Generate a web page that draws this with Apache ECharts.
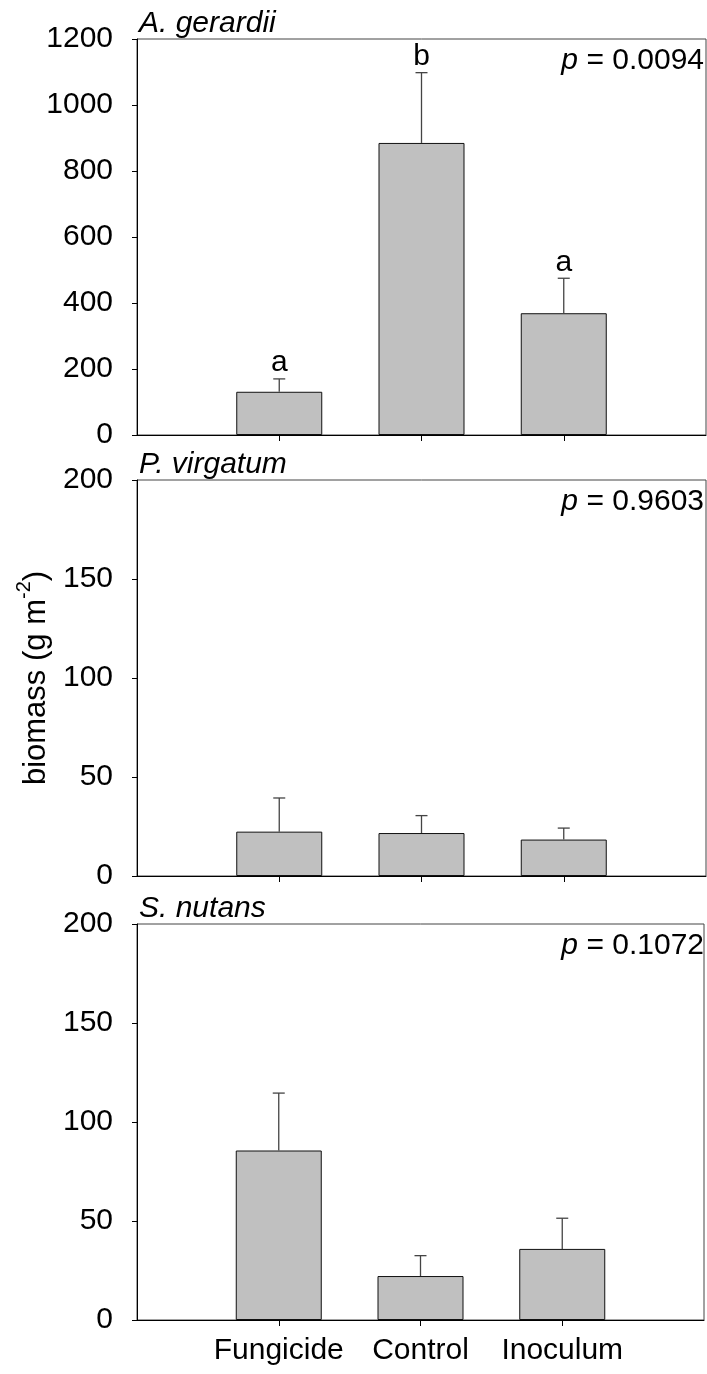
<!DOCTYPE html>
<html>
<head>
<meta charset="utf-8">
<script src="https://cdn.jsdelivr.net/npm/echarts@6/dist/echarts.min.js"></script>
<style>
html,body{margin:0;padding:0;background:#fff;}
#chart{width:707px;height:1374px;}
</style>
</head>
<body>
<div id="chart"></div>
<script>
// ---- data ----
const categories = ['Fungicide', 'Control', 'Inoculum'];
const panelTitles = ['A. gerardii', 'P. virgatum', 'S. nutans'];
const pValues = ['0.0094', '0.9603', '0.1072'];

const meansA = [131, 885, 369];
const errA = [39, 213, 106];
const lettersA = ['a', 'b', 'a'];

const meansP = [22.4, 21.7, 18.4];
const errP = [17.0, 8.8, 5.8];
const lettersP = ['', '', ''];

const meansS = [85.6, 22.2, 35.9];
const errS = [29.0, 10.3, 15.5];
const lettersS = ['', '', ''];

const yMaxList = [1200, 200, 200];
const yStepList = [200, 50, 50];
const yAxisTitle = 'biomass (g m';
const yAxisSup = '-2';

// ---- layout / style ----
const FONT = '"Liberation Sans", Arial, Helvetica, sans-serif';
const FS = 30;
const gridTops = [39, 480, 924];
const gridH = 396;
const axisData = [''].concat(categories, ['']);

const panels = [
  {means: meansA, err: errA, letters: lettersA},
  {means: meansP, err: errP, letters: lettersP},
  {means: meansS, err: errS, letters: lettersS}
];

const grids = [], xAxes = [], yAxes = [], series = [], titles = [];

panels.forEach((p, k) => {
  grids.push({left: 137, right: 1, top: gridTops[k], height: gridH,
    show: true, borderColor: '#444', borderWidth: 1, backgroundColor: 'transparent'});
  xAxes.push({
    type: 'category', gridIndex: k, data: axisData, boundaryGap: false,
    axisLine: {lineStyle: {color: '#000', width: 1}},
    axisTick: {show: true, length: 6, inside: false, interval: (i, v) => v !== '',
      lineStyle: {color: '#000'}},
    axisLabel: {show: k === 2, interval: 0, color: '#000', fontFamily: FONT, fontSize: FS, margin: 16},
    splitLine: {show: false}
  });
  const ya = {
    type: 'value', gridIndex: k, min: 0, max: yMaxList[k], interval: yStepList[k],
    axisLine: {show: true, lineStyle: {color: '#000', width: 1}},
    axisTick: {show: true, length: 5, lineStyle: {color: '#000'}},
    axisLabel: {color: '#000', fontFamily: FONT, fontSize: FS, margin: 24,
      formatter: v => String(v)},
    splitLine: {show: false}
  };
  if (k === 1) {
    ya.name = '{a|' + yAxisTitle + '}{s|' + yAxisSup + '}{a|)}';
    ya.nameLocation = 'middle';
    ya.nameGap = 84;
    ya.nameTextStyle = {
      color: '#000', fontFamily: FONT, fontSize: 31,
      rich: {
        a: {fontFamily: FONT, fontSize: 31, color: '#000', lineHeight: 38, verticalAlign: 'bottom'},
        s: {fontFamily: FONT, fontSize: 20, color: '#000', lineHeight: 38, verticalAlign: 'top'}
      }
    };
  }
  yAxes.push(ya);

  series.push({
    type: 'bar', xAxisIndex: k, yAxisIndex: k, barWidth: 86,
    data: [null].concat(p.means, [null]),
    itemStyle: {color: '#c0c0c0', borderColor: '#111', borderWidth: 1},
    silent: true, animation: false, z: 2
  });
  series.push({
    type: 'custom', xAxisIndex: k, yAxisIndex: k, animation: false, silent: true, z: 3,
    data: p.means.map((m, i) => [i + 1, m, p.err[i]]),
    renderItem: function (params, api) {
      const x = api.value(0), m = api.value(1), e = api.value(2);
      const letter = p.letters[params.dataIndex];
      const base = api.coord([x, m]);
      const top = api.coord([x, m + e]);
      const cap = 6;
      const children = [
        {type: 'line', shape: {x1: base[0], y1: base[1], x2: top[0], y2: top[1]},
         style: {stroke: '#444', lineWidth: 1.3}},
        {type: 'line', shape: {x1: top[0] - cap, y1: top[1], x2: top[0] + cap, y2: top[1]},
         style: {stroke: '#444', lineWidth: 1.3}}
      ];
      if (letter) {
        children.push({type: 'text', x: top[0], y: top[1] - 1,
          style: {text: letter, fill: '#000', font: FS + 'px ' + FONT,
                  textAlign: 'center', textVerticalAlign: 'bottom'}});
      }
      return {type: 'group', children: children};
    }
  });

  titles.push({
    text: panelTitles[k], left: 139, top: gridTops[k] - 30, padding: 0,
    textStyle: {fontStyle: 'italic', fontWeight: 'normal', fontFamily: FONT, fontSize: FS, color: '#000'}
  });
  titles.push({
    text: '{i|p} = ' + pValues[k], right: 3, top: gridTops[k] + 7, padding: 0,
    textStyle: {fontWeight: 'normal', fontFamily: FONT, fontSize: FS, color: '#000',
      rich: {i: {fontStyle: 'italic', fontFamily: FONT, fontSize: FS, color: '#000'}}}
  });
});

const chart = echarts.init(document.getElementById('chart'), null, {renderer: 'canvas'});
chart.setOption({
  animation: false,
  backgroundColor: '#fff',
  title: titles,
  grid: grids,
  xAxis: xAxes,
  yAxis: yAxes,
  series: series
});
</script>
</body>
</html>
